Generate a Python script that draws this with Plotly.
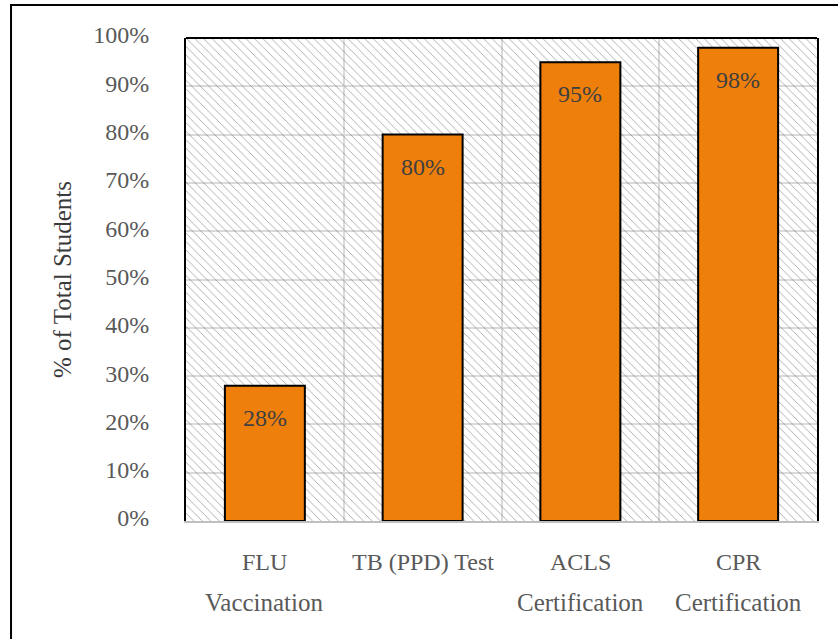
import plotly.graph_objects as go

# Data
categories_line1 = ["FLU", "TB (PPD) Test", "ACLS", "CPR"]
categories_line2 = ["Vaccination", "", "Certification", "Certification"]
percent_values = [28, 80, 95, 98]
y_ticks = [0, 10, 20, 30, 40, 50, 60, 70, 80, 90, 100]

FONT = "Liberation Serif"
BAR_COLOR = "#EF7F0B"
TICK_COLOR = "#595959"
LABEL_COLOR = "#404040"

positions = list(range(len(categories_line1)))

fig = go.Figure()

# Hatched plot-area background
fig.add_trace(go.Bar(
    x=[(len(positions) - 1) / 2], y=[100], width=[len(positions)],
    marker=dict(color="#d6d6d6", line=dict(width=0),
                pattern=dict(shape="\\", size=6, solidity=0.14,
                             bgcolor="rgba(0,0,0,0)")),
    hoverinfo="skip", showlegend=False,
))

# Main bars
fig.add_trace(go.Bar(
    x=positions, y=percent_values, width=0.507,
    marker=dict(color=BAR_COLOR, line=dict(color="#000000", width=2)),
    showlegend=False,
))

# Value labels inside the top of each bar
for xi, v in zip(positions, percent_values):
    fig.add_annotation(x=xi, y=v, xref="x", yref="y", text=f"{v}%",
                       showarrow=False, yanchor="middle", yshift=-32,
                       font=dict(family=FONT, size=24, color=LABEL_COLOR))

# Two-line category labels
for xi, l1, l2 in zip(positions, categories_line1, categories_line2):
    fig.add_annotation(x=xi, y=-0.085, xref="x", yref="paper", text=l1,
                       showarrow=False, yanchor="middle",
                       font=dict(family=FONT, size=24, color=TICK_COLOR))
    if l2:
        fig.add_annotation(x=xi, y=-0.168, xref="x", yref="paper", text=l2,
                           showarrow=False, yanchor="middle",
                           font=dict(family=FONT, size=25, color=TICK_COLOR))

# Top edge of plot frame
fig.add_shape(type="line", xref="paper", yref="paper", x0=0, x1=1, y0=1, y1=1,
              line=dict(color="#000000", width=2))
# Outer chart border
fig.add_shape(type="rect", xref="paper", yref="paper",
              x0=-0.2773, x1=1.2, y0=-0.4, y1=1.0683,
              line=dict(color="#000000", width=2), layer="above")

fig.update_layout(
    width=838, height=639,
    margin=dict(l=186, r=21, t=38, b=118),
    paper_bgcolor="white", plot_bgcolor="white",
    barmode="overlay",
    font=dict(family=FONT, size=24, color=TICK_COLOR),
    xaxis=dict(range=[-0.5, len(positions) - 0.5],
               tickvals=[p + 0.5 for p in positions[:-1]],
               showticklabels=False, ticks="",
               showgrid=True, gridcolor="#dadada", gridwidth=2,
               showline=True, linecolor="#bfbfbf", linewidth=2,
               zeroline=False, fixedrange=True),
    yaxis=dict(range=[0, 100], tickvals=y_ticks,
               ticktext=[f"{t}%" for t in y_ticks],
               ticklabelstandoff=30, ticklabelshift=-3,
               showgrid=True, gridcolor="#dadada", gridwidth=2,
               showline=True, linecolor="#000000", linewidth=2, mirror=True,
               zeroline=False, fixedrange=True,
               tickfont=dict(family=FONT, size=24, color=TICK_COLOR),
               title=dict(text="% of Total Students", standoff=14,
                          font=dict(family=FONT, size=25, color="#3a3a3a"))),
)

fig.write_html("out.html")
